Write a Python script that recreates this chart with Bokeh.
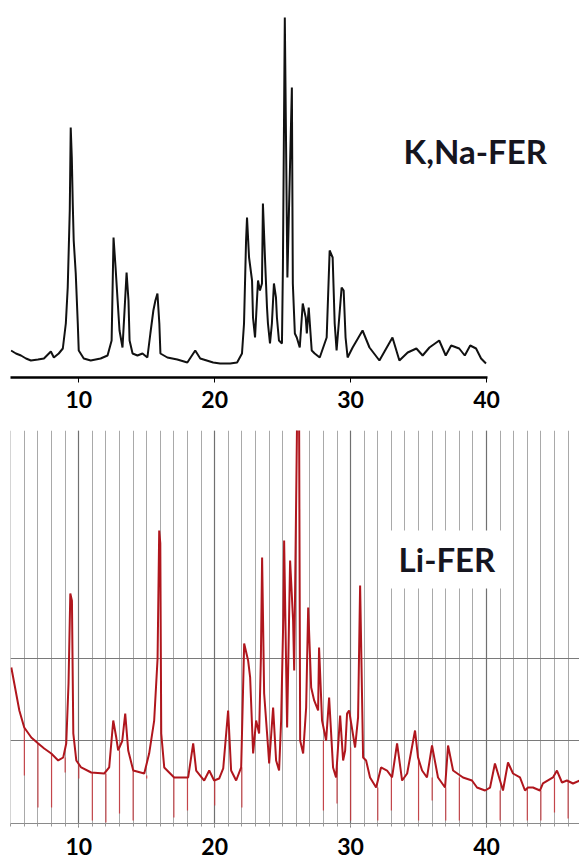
from bokeh.plotting import figure
from bokeh.layouts import column
from bokeh.models import Label, FixedTicker, SingleIntervalTicker, Grid, Range1d
from bokeh.embed import file_html
from bokeh.resources import INLINE

# ---------------- data ----------------
# K,Na-FER pattern (2-theta in degrees, intensity a.u.)
kna_theta = [5.02, 5.38, 5.75, 6.12, 6.48, 7.00, 7.44, 7.95, 8.17, 8.53, 8.83, 9.05, 9.19, 9.34, 9.41,
             9.49, 9.56, 9.63, 9.78, 9.93, 10.00, 10.37, 10.88, 11.61, 12.12, 12.42, 12.56, 12.71, 12.86,
             13.00, 13.22, 13.37, 13.52, 13.66, 13.74, 13.96, 14.32, 14.69, 15.05, 15.27, 15.49, 15.64,
             15.79, 15.93, 16.01, 16.52, 17.25, 17.99, 18.57, 18.94, 19.89, 20.40, 21.14, 21.65, 22.01,
             22.16, 22.31, 22.38, 22.53, 22.75, 22.82, 22.97, 23.11, 23.19, 23.33, 23.48, 23.55, 23.70,
             23.85, 23.92, 24.07, 24.21, 24.36, 24.51, 24.58, 24.73, 24.95, 25.02, 25.16, 25.35, 25.68,
             25.75, 25.90, 26.04, 26.26, 26.48, 26.70, 26.78, 26.92, 27.14, 27.36, 27.73, 28.24, 28.46,
             28.68, 28.83, 28.97, 29.34, 29.49, 29.63, 29.78, 30.15, 30.88, 31.39, 32.12, 33.08, 33.59,
             34.20, 34.84, 35.30, 35.80, 36.52, 37.00, 37.40, 37.99, 38.40, 38.80, 39.23, 39.60, 39.96]
kna_int = [270, 240, 220, 190, 170, 180, 190, 260, 200, 240, 290, 540, 900, 1670, 2500,
           2200, 1740, 1370, 1040, 540, 270, 190, 170, 190, 220, 370, 1400, 1100, 770,
           470, 300, 670, 1050, 770, 370, 240, 220, 240, 200, 440, 670, 770,
           840, 540, 240, 200, 180, 150, 270, 190, 150, 140, 140, 150, 240,
           540, 1370, 1600, 1200, 970, 600, 400, 770, 970, 870, 940, 1740, 1200,
           700, 540, 340, 540, 940, 800, 600, 370, 340, 1100, 3600, 1000, 2900,
           940, 440, 400, 300, 740, 600, 440, 700, 270, 240, 200, 400, 1270,
           1200, 540, 270, 900, 870, 400, 200, 300, 470, 300, 170, 400, 170,
           250, 290, 220, 300, 370, 220, 320, 290, 220, 320, 290, 190, 140]

# Li-FER pattern
li_theta = [5.04, 5.26, 5.63, 5.99, 6.51, 7.02, 7.46, 7.98, 8.49, 8.86, 9.08, 9.25, 9.38, 9.50, 9.60,
            9.82, 10.18, 10.92, 11.88, 12.24, 12.54, 12.76, 12.90, 13.20, 13.42, 13.64, 14.01, 14.82,
            15.18, 15.55, 15.80, 15.92, 16.00, 16.07, 16.29, 17.02, 18.05, 18.42, 18.64, 19.23, 19.60,
            19.96, 20.33, 20.63, 20.99, 21.21, 21.58, 21.95, 22.17, 22.46, 22.61, 22.83, 23.05, 23.27,
            23.40, 23.49, 23.64, 23.93, 24.01, 24.30, 24.52, 24.74, 24.89, 25.05, 25.11, 25.33, 25.55,
            25.77, 25.85, 26.07, 26.21, 26.29, 26.51, 26.73, 26.88, 27.10, 27.32, 27.61, 27.68, 27.90,
            28.20, 28.42, 28.71, 28.93, 29.23, 29.45, 29.60, 29.74, 29.89, 30.33, 30.55, 30.70, 30.92,
            31.14, 31.43, 31.88, 32.24, 32.68, 33.05, 33.42, 33.79, 34.16, 34.74, 34.96, 35.26, 35.62,
            35.99, 36.43, 36.95, 37.17, 37.54, 38.27, 38.93, 39.30, 39.89, 40.26, 40.62, 41.21, 41.58,
            41.95, 42.46, 42.83, 43.05, 43.42, 43.93, 44.15, 44.89, 45.18, 45.55, 45.92, 46.36, 46.88]
li_int = [1891, 1697, 1370, 1164, 1042, 970, 909, 848, 764, 800, 970, 1700, 2788, 2700, 1091,
          764, 679, 618, 606, 679, 1248, 1042, 885, 1000, 1333, 885, 642, 606,
          848, 1248, 2000, 3551, 3400, 1091, 679, 558, 558, 970, 642, 521, 642,
          521, 545, 667, 1370, 642, 521, 679, 2182, 1976, 1770, 848, 1248, 1091,
          2000, 3224, 1576, 921, 727, 1406, 764, 642, 1248, 2500, 3430, 1164, 3188,
          2461, 1854, 5000, 5000, 1006, 848, 1406, 2618, 1648, 1491, 1370, 2133, 1248,
          1006, 1527, 679, 558, 1309, 764, 885, 1333, 1370, 921, 1285, 2885, 800,
          764, 558, 436, 679, 642, 558, 970, 521, 606, 1127, 800, 642, 558,
          945, 558, 436, 945, 642, 558, 521, 436, 400, 436, 727, 400, 739,
          606, 558, 400, 436, 436, 400, 485, 558, 642, 497, 521, 485, 521]

# Li-FER sharp drop-outs at grid positions (theta, curve level, lowest point)
drop_theta = [6, 7, 8, 9, 10, 11, 12, 13, 14, 15, 17, 18, 20, 22, 28, 29, 30, 32, 33, 35, 36, 37, 38,
              41, 43, 44, 45, 46]
drop_top = [1164, 970, 848, 800, 703, 618, 606, 885, 642, 582, 558, 558, 521, 679, 1006, 679, 921, 436,
            558, 800, 558, 436, 558, 400, 436, 400, 558, 521]
drop_bottom = [582, 194, 194, 618, 545, 36, 12, 121, 36, 545, 73, 158, 218, 194, 158, 242, 36, 36,
               158, 36, 279, 36, 36, 36, 36, 36, 133, 60]

major_ticks = [10, 20, 30, 40]
li_hgrid = [1000, 2000]

FONT = "Lato"
X_RANGE = Range1d(4.98, 46.84)

# ---------------- top panel ----------------
top = figure(width=579, height=418, output_backend="svg", toolbar_location=None,
             x_range=X_RANGE, y_range=Range1d(0, 3670),
             y_axis_location=None, min_border_left=10, min_border_right=0,
             min_border_top=10, min_border_bottom=41)
top.outline_line_color = None
top.grid.visible = False
top.background_fill_color = "white"
top.border_fill_color = "white"

ax = top.xaxis[0]
ax.ticker = FixedTicker(ticks=major_ticks)
ax.bounds = (5.0, 40.1)
ax.axis_line_width = 2.5
ax.axis_line_color = "black"
ax.major_tick_out = 5
ax.major_tick_in = 0
ax.major_tick_line_color = "black"
ax.minor_tick_line_color = None
ax.major_label_text_font = FONT
ax.major_label_text_font_style = "bold"
ax.major_label_text_font_size = "23px"
ax.major_label_text_color = "black"
ax.major_label_standoff = 8

top.line(kna_theta, kna_int, color="#111111", line_width=2.0)

top.add_layout(Label(x=33.9, y=2270, text="K,Na-FER", text_font=FONT, text_font_style="bold",
                     text_font_size="33px", text_color="#15151f", text_baseline="alphabetic"))

# ---------------- bottom panel ----------------
bot = figure(width=579, height=445, output_backend="svg", toolbar_location=None,
             x_range=X_RANGE, y_range=Range1d(0, 4763),
             y_axis_location=None, min_border_left=10, min_border_right=0,
             min_border_top=12, min_border_bottom=40)
bot.outline_line_color = None
bot.background_fill_color = "white"
bot.border_fill_color = "white"

bot.xgrid.ticker = SingleIntervalTicker(interval=1)
bot.xgrid.grid_line_color = "#a9a9a9"
bot.xgrid.grid_line_width = 1
bot.ygrid.ticker = FixedTicker(ticks=li_hgrid)
bot.ygrid.grid_line_color = "#7a7a7a"
bot.ygrid.grid_line_width = 1.2
bot.add_layout(Grid(dimension=0, ticker=FixedTicker(ticks=major_ticks),
                    grid_line_color="#707070", grid_line_width=1.2))

bx = bot.xaxis[0]
bx.ticker = FixedTicker(ticks=major_ticks, minor_ticks=list(range(5, 47)))
bx.axis_line_color = "#8a8a8a"
bx.axis_line_width = 1.2
bx.major_tick_out = 4
bx.major_tick_in = 0
bx.minor_tick_out = 3
bx.minor_tick_in = 0
bx.major_tick_line_color = "#707070"
bx.minor_tick_line_color = "#9a9a9a"
bx.major_label_text_font = FONT
bx.major_label_text_font_style = "bold"
bx.major_label_text_font_size = "23px"
bx.major_label_text_color = "black"
bx.major_label_standoff = 10

bot.segment(x0=drop_theta, y0=drop_top, x1=drop_theta, y1=drop_bottom,
            color="#c8343a", line_width=1.2, line_alpha=0.85)
bot.line(li_theta, li_int, color="#b0161d", line_width=2.0)

bot.add_layout(Label(x=32.87, y=3200, text="Li-FER", text_font=FONT, text_font_style="bold",
                     text_font_size="33px", text_color="#15151f", text_baseline="alphabetic",
                     background_fill_color="white", padding=9))

layout = column(top, bot, spacing=0)
open("out.html", "w").write(file_html(layout, INLINE))
